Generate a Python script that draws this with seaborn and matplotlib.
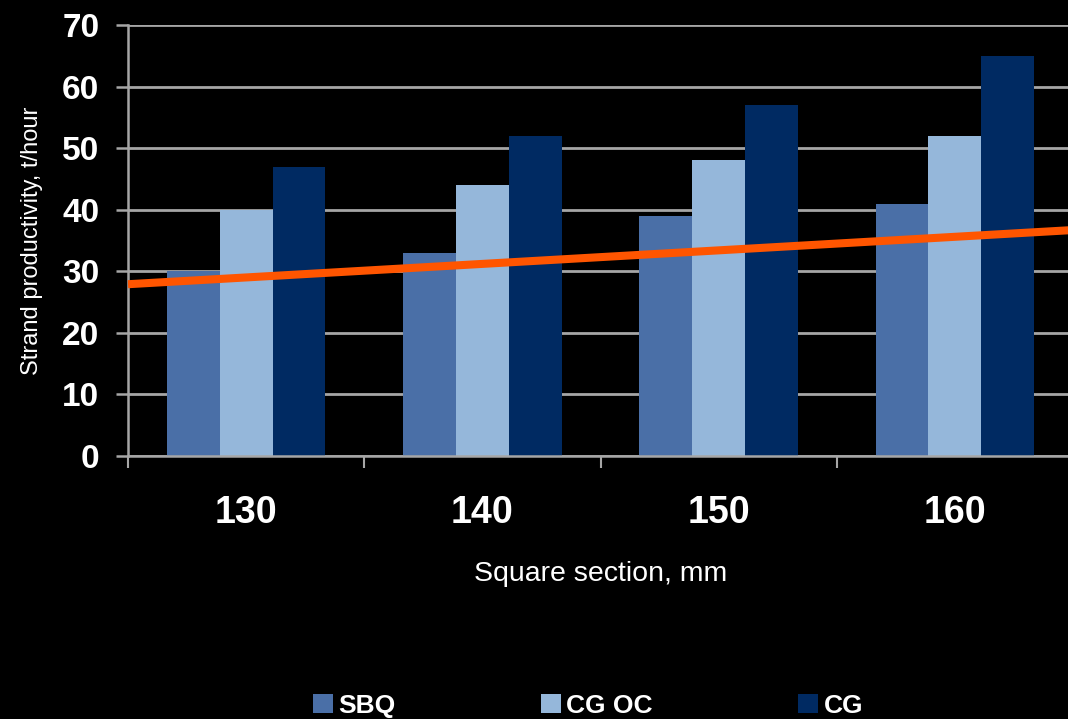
#!/usr/bin/env python3
"""
Strand productivity by square section - grouped bars with a reference line.
"""
import numpy as np
import pandas as pd
import matplotlib
matplotlib.use("Agg")
import matplotlib.pyplot as plt
import seaborn as sns

# data
sections = ["130", "140", "150", "160"]
series = ["SBQ", "CG OC", "CG"]
sbq = [30, 33, 39, 41]
cg_oc = [40, 44, 48, 52]
cg = [47, 52, 57, 65]
# orange line: value at the left and right edge of the plot
line_start = 27.9
line_end = 36.7
yticks = [0, 10, 20, 30, 40, 50, 60, 70]

colors = ["#4A6FA7", "#95B7DA", "#002A62"]
GRID = "#A6A6A6"
ORANGE = "#FF5500"

df = pd.DataFrame({
    "section": sections * 3,
    "value": sbq + cg_oc + cg,
    "series": [s for s in series for _ in sections],
})

sns.set_theme(style="dark")
plt.rcParams["font.family"] = ["Liberation Sans", "DejaVu Sans"]

fig = plt.figure(figsize=(10.68, 7.19), dpi=100, facecolor="black")
ax = fig.add_axes([128 / 1068, 1 - 456 / 719, (1073 - 128) / 1068, (456 - 25) / 719])
ax.set_facecolor("black")

sns.barplot(data=df, x="section", y="value", hue="series", palette=colors,
            width=0.67, saturation=1, linewidth=0, edgecolor="none", ax=ax, zorder=2)

# reference line across the whole plot width
ax.plot([-0.5, 3.5], [line_start, line_end], color=ORANGE, lw=5.8,
        solid_capstyle="butt", zorder=5, clip_on=False)

ax.set_xlim(-0.5, 3.5)
ax.set_ylim(0, 70)
ax.set_yticks(yticks)
ax.set_axisbelow(True)
ax.grid(False)
ax.yaxis.grid(True, color=GRID, lw=2)

for side in ["top", "right"]:
    ax.spines[side].set_visible(False)
for side in ["left", "bottom"]:
    ax.spines[side].set_color(GRID)
    ax.spines[side].set_linewidth(1.8)

# category boundaries as ticks, labels in the middle
ax.set_xticks(np.arange(-0.5, 4.0, 1.0))
ax.set_xticklabels([])
ax.set_xticks(np.arange(len(sections)), minor=True)
ax.set_xticklabels(sections, minor=True, fontsize=27, fontweight="bold", color="white")
ax.tick_params(axis="x", which="major", bottom=True, length=8.6, width=1.5,
               color=GRID, direction="out")
ax.tick_params(axis="x", which="minor", bottom=True, length=0, pad=28)
ax.tick_params(axis="y", left=True, length=8.6, width=1.8, color=GRID, direction="out",
               pad=12, labelsize=24, labelcolor="white")
for lbl in ax.get_yticklabels():
    lbl.set_fontweight("bold")

ax.set_xlabel("Square section, mm", fontsize=20.5, color="white", labelpad=22)
ax.set_ylabel("Strand productivity, t/hour", fontsize=17, color="white", labelpad=14)

handles, labels = ax.get_legend_handles_labels()
ax.get_legend().remove()
leg = fig.legend(handles, labels, loc="center", bbox_to_anchor=(588 / 1068, 1 - 706 / 719),
                 ncol=3, frameon=False, fontsize=19, handlelength=0.75,
                 handleheight=0.75, handletextpad=0.22, columnspacing=5.5, borderpad=0)
for t in leg.get_texts():
    t.set_color("white")
    t.set_fontweight("bold")
for h in leg.legend_handles:
    h.set_edgecolor("none")

fig.savefig("out.png", dpi=100, facecolor="black")
